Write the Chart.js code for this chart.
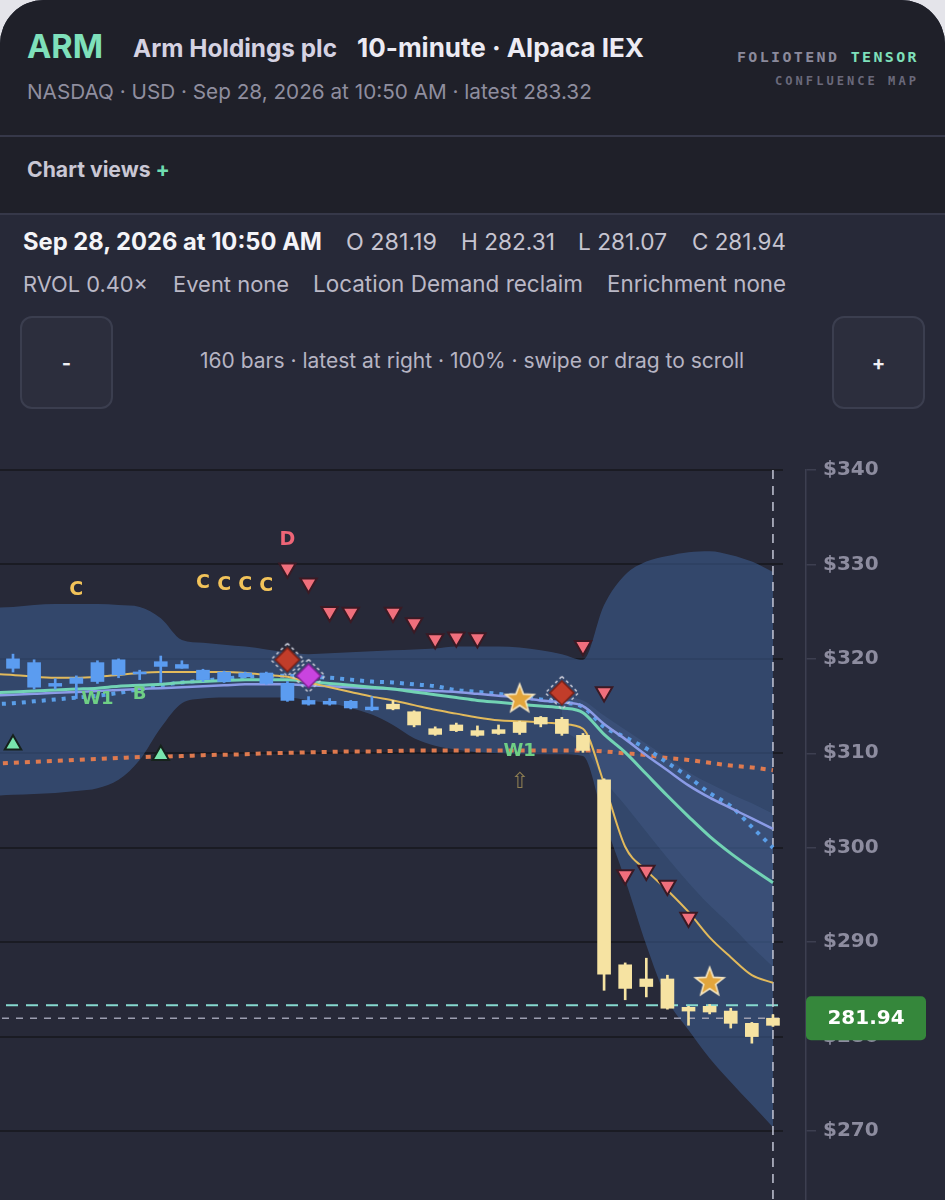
<!DOCTYPE html>
<html>
<head>
<meta charset="utf-8">
<script src="https://cdn.jsdelivr.net/npm/chart.js@4.4.1/dist/chart.umd.min.js"></script>
<style>
  html,body{margin:0;padding:0;width:945px;height:1200px;overflow:hidden;background:#e4e4ea;}
  body{font-family:Inter,Roboto,"Noto Sans",sans-serif;}
  #card{position:absolute;left:0;top:0;width:945px;height:1200px;background:#272938;border-radius:44px 44px 0 0;overflow:hidden;}
  #head{position:absolute;left:0;top:0;width:945px;height:214px;background:#1f2029;}
  .t{position:absolute;white-space:nowrap;line-height:1;top:0;}
  .sep{position:absolute;left:0;width:945px;height:2px;background:#363849;}
  .mono{font-family:"DejaVu Sans Mono",monospace;font-weight:700;}
  .btn{position:absolute;top:316px;width:89px;height:89px;border:2px solid #3b3e4f;border-radius:12px;background:#2c2e3d;color:#f0f0f5;font-weight:700;font-size:20px;display:flex;align-items:center;justify-content:center;}
  #wrap{position:absolute;left:0;top:440px;width:945px;height:760px;}
</style>
</head>
<body>
<div id="card">
  <div id="head"></div>
  <div class="t" data-w="27,103,58" style="font-size:36px;font-weight:700;color:#7fe0bb;">ARM</div>
  <div class="t" data-w="133,337,57" style="font-size:22px;font-weight:700;color:#d5d2e2;">Arm Holdings plc</div>
  <div class="t" data-w="357,644,57" style="font-size:24px;font-weight:700;color:#ecebf3;">10-minute · Alpaca IEX</div>
  <div class="t mono" data-w="737,919,62" style="font-size:13px;letter-spacing:0.16em;color:#8b8a9c;">FOLIOTEND <span style="color:#7fe0bb;">TENSOR</span></div>
  <div class="t mono" data-w="775,919,85" style="font-size:11px;letter-spacing:0.25em;color:#6a697b;">CONFLUENCE MAP</div>
  <div class="t" data-w="27,592,99" style="font-size:20px;color:#8f8e9f;">NASDAQ · USD · Sep 28, 2026 at 10:50 AM · latest 283.32</div>
  <div class="sep" style="top:135px;"></div>
  <div class="t" data-w="27,170,177" style="font-size:19px;font-weight:700;color:#c9c7d4;">Chart views <span style="color:#6fdcb0;">+</span></div>
  <div class="sep" style="top:213px;"></div>

  <div class="t" data-w="23,322,250" style="font-size:20px;font-weight:700;color:#f4f4f8;">Sep 28, 2026 at 10:50 AM</div>
  <div class="t" data-w="346,437,250" style="font-size:20px;color:#c6c4d0;">O 281.19</div>
  <div class="t" data-w="461,555,250" style="font-size:20px;color:#c6c4d0;">H 282.31</div>
  <div class="t" data-w="578,667,250" style="font-size:20px;color:#c6c4d0;">L 281.07</div>
  <div class="t" data-w="692,786,250" style="font-size:20px;color:#c6c4d0;">C 281.94</div>

  <div class="t" data-w="23,148,292" style="font-size:20px;color:#bab8c6;">RVOL 0.40×</div>
  <div class="t" data-w="173,289,292" style="font-size:20px;color:#bab8c6;">Event none</div>
  <div class="t" data-w="313,583,292" style="font-size:20px;color:#bab8c6;">Location Demand reclaim</div>
  <div class="t" data-w="607,786,292" style="font-size:20px;color:#bab8c6;">Enrichment none</div>

  <div class="btn" style="left:20px;">-</div>
  <div class="btn" style="left:832px;">+</div>
  <div class="t" data-w="200,744,368" style="font-size:18px;color:#b6b4c3;">160 bars · latest at right · 100% · swipe or drag to scroll</div>

  <div id="wrap"><canvas id="c" width="945" height="760"></canvas></div>
</div>

<script>
// ---------- DATA ----------
// 10-minute bars (Fri Sep 25 11:20 → Mon Sep 28 10:50), index 0..36
const barTime = ["11:20","11:30","11:40","11:50","12:00","12:10","12:20","12:30","12:40","12:50",
  "13:00","13:10","13:20","13:30","13:40","13:50","14:00","14:10","14:20","14:30",
  "14:40","14:50","15:00","15:10","15:20","15:30","15:40","15:50",
  "09:30","09:40","09:50","10:00","10:10","10:20","10:30","10:40","10:50"];
const barIdx  = [0,1,2,3,4,5,6,7,8,9,10,11,12,13,14,15,16,17,18,19,20,21,22,23,24,25,26,27,28,29,30,31,32,33,34,35,36];
const barOpen  = [319.0,319.6,317.1,318.0,317.6,318.3,318.4,319.2,319.4,318.8,318.6,318.5,318.5,317.4,315.6,315.5,315.5,314.9,315.2,314.4,312.6,313.0,312.4,312.5,313.3,313.1,313.6,311.9,307.2,287.6,286.1,286.1,283.1,283.2,282.7,281.4,281.19];
const barHigh  = [320.5,319.9,317.9,318.2,319.8,320.0,318.8,320.3,319.8,318.9,318.7,318.6,318.6,317.6,316.0,315.8,315.6,316.0,315.6,314.5,312.8,313.2,312.9,313.0,313.4,313.9,313.8,312.1,307.3,287.8,288.3,286.5,283.2,283.4,283.0,281.5,282.31];
const barLow   = [318.6,316.8,316.8,315.8,317.4,318.0,317.8,317.5,319.0,317.6,317.5,318.0,317.3,315.5,315.1,315.1,314.7,314.5,314.6,312.8,311.9,312.3,311.8,312.0,312.0,312.8,311.9,310.1,284.9,283.9,284.2,282.9,281.2,282.4,280.9,279.3,281.07];
const barClose = [320.0,317.0,317.4,317.4,319.6,319.9,318.6,319.7,319.0,317.8,317.6,318.1,317.4,315.6,315.2,315.2,314.8,314.6,314.7,313.0,312.0,312.4,311.9,312.1,312.2,313.8,312.1,310.3,286.6,285.1,285.3,283.0,282.7,282.6,281.4,280.0,281.94];
const barRegime = ["a","a","a","a","a","a","a","a","a","a","a","a","a","a","a","a","a","a",
  "b","b","b","b","b","b","b","b","b","b","b","b","b","b","b","b","b","b","b"];

// overlay series (index -1 = bar just left of the window)
const lineIdx    = [-1,0,1,2,3,4,5,6,7,8,9,10,11,12,13,14,15,16,17,18,19,20,21,22,23,24,25,26,27,28,29,30,31,32,33,34,35,36];
const fastMA     = [318.4,318.3,318.1,318.0,318.0,318.1,318.3,318.5,318.6,318.6,318.6,318.6,318.5,318.3,318.1,317.5,317.0,316.5,316.0,315.6,315.1,314.6,314.2,313.8,313.5,313.4,313.3,313.1,312.6,306.8,300.1,297.6,295.5,293.2,290.5,288.4,286.5,285.7];
const midMA      = [316.4,316.5,316.6,316.7,316.8,316.9,317.1,317.2,317.3,317.5,317.6,317.7,317.8,317.8,317.8,317.6,317.4,317.2,317.0,316.8,316.5,316.2,315.9,315.6,315.4,315.2,315.0,314.8,314.3,312.0,310.1,307.8,305.5,303.3,301.2,299.4,297.8,296.3];
const slowMA     = [316.1,316.2,316.3,316.4,316.5,316.6,316.7,316.8,316.9,317.0,317.1,317.2,317.3,317.3,317.3,317.2,317.1,317.0,316.9,316.8,316.7,316.6,316.5,316.3,316.1,315.9,315.6,315.4,315.0,313.1,311.5,309.8,308.2,306.6,305.3,304.2,303.1,302.0];
const vwapLine   = [315.2,315.3,315.5,315.7,315.9,316.1,316.4,316.8,317.2,317.5,317.7,317.9,318.1,318.2,318.2,318.1,318.0,317.8,317.6,317.5,317.3,317.1,316.7,316.5,316.3,316.0,315.7,315.4,314.9,312.8,311.7,310.5,309.0,307.5,305.8,304.4,302.2,300.0];
const anchorLine = [308.9,309.0,309.1,309.2,309.3,309.4,309.5,309.6,309.65,309.7,309.8,309.85,309.9,310.0,310.05,310.1,310.15,310.2,310.2,310.25,310.3,310.3,310.3,310.3,310.3,310.3,310.3,310.3,310.3,310.2,310.0,309.8,309.5,309.3,309.0,308.7,308.5,308.2];
const bandUpper  = [325.4,325.5,325.7,325.8,325.8,325.8,325.7,325.5,324.3,322.0,321.7,321.5,321.3,321.0,320.7,320.5,320.6,320.7,320.8,320.9,321.0,321.1,321.3,321.3,321.3,321.2,320.9,320.5,319.9,325.7,328.9,330.3,330.9,331.3,331.4,331.0,330.3,329.2];
const bandLower  = [305.5,305.6,305.7,305.8,306.0,306.3,307.2,309.3,312.7,315.3,315.8,315.9,315.9,315.9,315.9,315.6,315.3,314.8,314.1,313.0,311.6,310.8,310.4,310.1,310.0,309.9,309.9,309.9,309.7,302.9,296.6,289.7,283.9,280.7,277.7,275.2,272.8,270.4];
// inner fan after the open
const innerIdx   = [26,27,28,29,30,31,32,33,34,35,36];
const innerUpper = [316.0,315.6,314.0,312.5,311.0,309.5,308.0,306.8,305.7,304.7,303.6];
const innerLower = [312.5,310.9,307.2,304.5,301.7,298.9,296.3,293.9,291.8,289.5,287.4];

const priceTicks = [270,280,290,300,310,320,330,340];
const latestPrice = 283.32;
const closePrice = 281.94;

// signal markers
const upTriIdx = [0,7];            const upTriPrice = [310.9,309.8];
const downTriIdx = [13,14,15,16,18,19,20,21,22,27,28,29,30,31,32];
const downTriPrice = [329.6,328.0,325.0,324.9,324.9,323.8,322.1,322.3,322.2,321.4,316.5,297.1,297.6,296.0,292.6];
const zoneIdx = [13,26];           const zonePrice = [319.9,316.4];
const pivotIdx = [14];             const pivotPrice = [318.2];
const starIdx = [24,33];           const starPrice = [315.9,285.9];
const tagText  = ["C","C","C","C","C","D","W1","B","W1"];
const tagIdx   = [3,9,10,11,12,13,4,6,24];
const tagPrice = [327.3,328.0,327.8,327.8,327.7,332.6,315.7,316.2,310.2];
const arrowIdx = [24];             const arrowPrice = [306.9];

// ---------- TEXT FIT (layout only) ----------
function fitTexts(){
  document.querySelectorAll('.t[data-w]').forEach(el=>{
    const [l, r, base] = el.dataset.w.split(',').map(Number);
    el.style.left = l+'px';
    const fs0 = parseFloat(getComputedStyle(el).fontSize);
    const w = el.getBoundingClientRect().width;
    el.style.fontSize = (fs0*(r-l)/w)+'px';
    const probe = document.createElement('span');
    probe.style.cssText='display:inline-block;width:0;height:0;vertical-align:baseline;';
    el.appendChild(probe);
    const off = probe.getBoundingClientRect().top - el.getBoundingClientRect().top;
    probe.remove();
    el.style.top = (base-off)+'px';
  });
}
fitTexts();
if(document.fonts && document.fonts.ready) document.fonts.ready.then(fitTexts);

// ---------- STYLE HELPERS ----------
function makeDiamond(fill, edge){
  const s=36, c=document.createElement('canvas'); c.width=c.height=s;
  const g=c.getContext('2d'), m=s/2;
  g.setLineDash([3,3]); g.strokeStyle='#c9cbd8'; g.lineWidth=1.5;
  let r=m-1.5; g.beginPath(); g.moveTo(m,m-r); g.lineTo(m+r,m); g.lineTo(m,m+r); g.lineTo(m-r,m); g.closePath(); g.stroke();
  g.setLineDash([]); r=m-6;
  g.beginPath(); g.moveTo(m,m-r); g.lineTo(m+r,m); g.lineTo(m,m+r); g.lineTo(m-r,m); g.closePath();
  g.fillStyle=fill; g.fill(); g.strokeStyle=edge; g.lineWidth=1.5; g.stroke();
  return c;
}
function makeStar(){
  const s=34, c=document.createElement('canvas'); c.width=c.height=s;
  const g=c.getContext('2d'), m=s/2, R=15, r=6.3;
  g.beginPath();
  for(let k=0;k<10;k++){const a=-Math.PI/2+k*Math.PI/5, rr=k%2?r:R; g.lineTo(m+rr*Math.cos(a), m+1.5+rr*Math.sin(a));}
  g.closePath(); g.fillStyle='#e2a53c'; g.fill(); g.strokeStyle='#f5e6c2'; g.lineWidth=1.6; g.stroke();
  return c;
}
const pts = (idx, vals) => idx.map((x,k)=>({x, y: vals[k]}));
const lineDS = (label, vals, color, width, dash, order) => ({
  type:'line', label, data: pts(lineIdx, vals), borderColor: color, borderWidth: width,
  borderDash: dash || [], borderCapStyle:'butt', pointRadius:0, fill:false,
  cubicInterpolationMode:'monotone', order
});

const BLUE='#5b9cf0', CREAM='#f6e3a2';
const candleColor = barRegime.map(r => r==='a' ? BLUE : CREAM);

const datasets = [
  {type:'line', label:'bandUpper', data: pts(lineIdx, bandUpper), borderWidth:0, pointRadius:0,
   cubicInterpolationMode:'monotone', fill:'+1', backgroundColor:'rgba(60,92,142,0.6)', order:20},
  {type:'line', label:'bandLower', data: pts(lineIdx, bandLower), borderWidth:0, pointRadius:0,
   cubicInterpolationMode:'monotone', fill:false, order:20},
  {type:'line', label:'innerUpper', data: pts(innerIdx, innerUpper), borderWidth:0, pointRadius:0,
   cubicInterpolationMode:'monotone', fill:'+1', backgroundColor:'rgba(80,112,165,0.22)', order:15},
  {type:'line', label:'innerLower', data: pts(innerIdx, innerLower), borderWidth:0, pointRadius:0,
   cubicInterpolationMode:'monotone', fill:false, order:15},
  lineDS('anchor', anchorLine, '#df7a4f', 4, [5,6], 12),
  lineDS('vwap', vwapLine, '#5a9ee8', 4, [4,6], 11),
  lineDS('slow', slowMA, '#8b9be6', 2.5, null, 10),
  lineDS('mid', midMA, '#72d3b4', 3, null, 9),
  lineDS('fast', fastMA, '#e2ba5c', 2, null, 8),
  {type:'bar', label:'wick', data: barIdx.map((x,k)=>({x, y:[barLow[k], barHigh[k]]})),
   backgroundColor: candleColor, barThickness:2, grouped:false, order:6},
  {type:'bar', label:'body', data: barIdx.map((x,k)=>({x, y:[barOpen[k], barClose[k]]})),
   backgroundColor: candleColor, barThickness:13, grouped:false, order:5, minBarLength:2},
  {type:'line', label:'up', data: pts(upTriIdx, upTriPrice), showLine:false, pointStyle:'triangle',
   pointRadius:9.5, pointBackgroundColor:'#78e6ad', pointBorderColor:'#16221c', pointBorderWidth:2, order:2},
  {type:'line', label:'down', data: pts(downTriIdx, downTriPrice), showLine:false, pointStyle:'triangle', pointRotation:180,
   pointRadius:9.5, pointBackgroundColor:'#f06f7c', pointBorderColor:'#3a1a24', pointBorderWidth:2, order:2},
  {type:'line', label:'zone', data: pts(zoneIdx, zonePrice), showLine:false, pointStyle: makeDiamond('#c13d2a','#7a2218'), order:1},
  {type:'line', label:'pivot', data: pts(pivotIdx, pivotPrice), showLine:false, pointStyle: makeDiamond('#c944df','#7d2290'), order:0},
  {type:'line', label:'star', data: pts(starIdx, starPrice), showLine:false, pointStyle: makeStar(), order:0}
];

const overlay = {
  id:'overlay',
  beforeDatasetsDraw(chart){
    const {ctx, chartArea:a, scales:{y}} = chart;
    ctx.save(); ctx.strokeStyle='#1a1b23'; ctx.lineWidth=2;
    priceTicks.forEach(v=>{const py=Math.round(y.getPixelForValue(v)); ctx.beginPath(); ctx.moveTo(a.left,py); ctx.lineTo(783,py); ctx.stroke();});
    ctx.restore();
  },
  afterDatasetDraw(chart, args){
    if(chart.data.datasets[args.index].label!=='anchor') return;
    const {ctx, chartArea:a, scales:{x,y}} = chart;
    ctx.save();
    let py=y.getPixelForValue(latestPrice);
    ctx.setLineDash([12,8]); ctx.strokeStyle='#86d9cf'; ctx.lineWidth=2;
    ctx.beginPath(); ctx.moveTo(a.left+6,py); ctx.lineTo(780,py); ctx.stroke();
    py=y.getPixelForValue(closePrice);
    ctx.setLineDash([7,7]); ctx.strokeStyle='#9c9eb0'; ctx.lineWidth=1.5;
    ctx.beginPath(); ctx.moveTo(a.left+2,py); ctx.lineTo(782,py); ctx.stroke();
    const px=x.getPixelForValue(barIdx[barIdx.length-1]);
    ctx.setLineDash([9,7]); ctx.strokeStyle='#c3c6d6'; ctx.lineWidth=1.5;
    ctx.beginPath(); ctx.moveTo(px,a.top); ctx.lineTo(px,a.bottom); ctx.stroke();
    ctx.restore();
  },
  afterDatasetsDraw(chart){
    const {ctx, scales:{x,y}} = chart;
    ctx.save(); ctx.textAlign='center'; ctx.textBaseline='middle';
    tagText.forEach((t,k)=>{
      const col = t==='C' ? '#f2c35a' : (t==='D' ? '#ee6577' : '#6fcf85');
      ctx.font = (t==='C'||t==='D') ? 'bold 19px "DejaVu Sans"' : 'bold 18px "DejaVu Sans"';
      ctx.fillStyle=col; ctx.fillText(t, x.getPixelForValue(tagIdx[k]), y.getPixelForValue(tagPrice[k]));
    });
    ctx.font='22px "DejaVu Sans"'; ctx.fillStyle='#8c7d52';
    arrowIdx.forEach((xi,k)=>ctx.fillText('⇧', x.getPixelForValue(xi), y.getPixelForValue(arrowPrice[k])));
    ctx.restore();
  },
  afterDraw(chart){
    const {ctx, chartArea:a, scales:{y}} = chart;
    const py=y.getPixelForValue(closePrice);
    ctx.save();
    const bx=a.right, bw=120, bh=44;
    ctx.fillStyle='#35873b';
    ctx.beginPath(); ctx.roundRect(bx, py-bh/2, bw, bh, 5); ctx.fill();
    ctx.fillStyle='#ffffff'; ctx.font='bold 20px "DejaVu Sans"'; ctx.textAlign='center'; ctx.textBaseline='middle';
    ctx.fillText(closePrice.toFixed(2), bx+bw/2, py+1);
    ctx.restore();
  }
};

new Chart(document.getElementById('c'), {
  type:'line',
  data:{ datasets },
  options:{
    responsive:false, animation:false, events:[],
    layout:{autoPadding:false, padding:{top:30,left:0,right:0,bottom:0}},
    plugins:{legend:{display:false}, tooltip:{enabled:false}},
    scales:{
      x:{type:'linear', min:-0.6158, max:37.565, display:false, offset:false},
      y:{
        position:'right', min:262.693, max:340,
        afterBuildTicks: s => { s.ticks = priceTicks.map(v=>({value:v})); },
        afterFit: s => { s.width = 139; s.paddingTop = 0; s.paddingBottom = 0; },
        grid:{drawOnChartArea:false, drawTicks:true, tickLength:10, tickColor:'#3d3f50', lineWidth:1.5},
        border:{display:true, color:'#3d3f50', width:1.5},
        ticks:{color:'#8d8c9f', padding:7, font:{family:'DejaVu Sans', weight:'bold', size:20}, callback: v => '$'+v}
      }
    }
  },
  plugins:[overlay]
});
</script>
</body>
</html>
